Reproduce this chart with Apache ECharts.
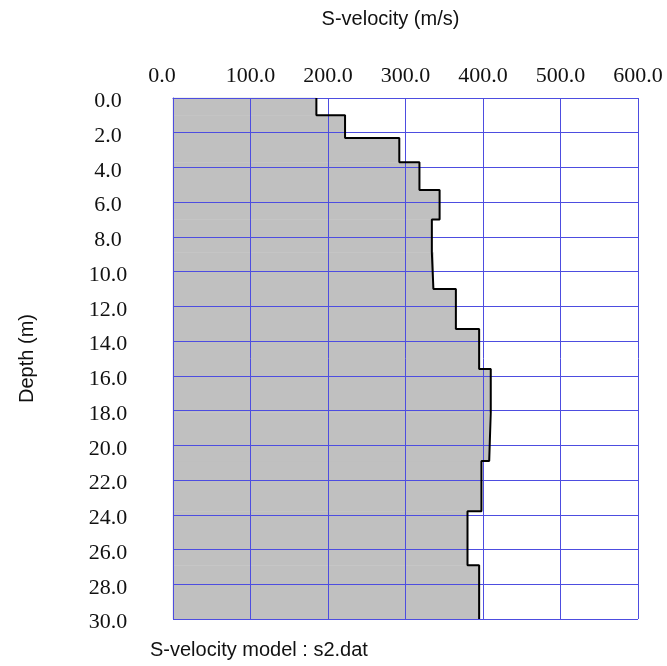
<!DOCTYPE html>
<html>
<head>
<meta charset="utf-8">
<script src="https://cdn.jsdelivr.net/npm/echarts@6/dist/echarts.min.js"></script>
<style>
  html, body { margin: 0; padding: 0; background: #fff; }
  #chart { width: 667px; height: 666px; }
</style>
</head>
<body>
<div id="chart"></div>
<script>
// S-velocity of each layer (m/s) and the layer depths (m)
const velocity = [185, 222, 292, 318, 344, 334, 336, 365, 395, 410, 408, 398, 380, 395];
const layerTop = [0, 1.0, 2.3, 3.7, 5.3, 7.0, 8.9, 11.0, 13.3, 15.6, 18.1, 20.9, 23.8, 26.9];
const layerBottom = [1.0, 2.3, 3.7, 5.3, 7.0, 8.9, 11.0, 13.3, 15.6, 18.1, 20.9, 23.8, 26.9, 30.0];

const gridBlue = "#4d4de0";
const labelFont = "Liberation Serif";

// filled layers
const layerData = velocity.map((v, i) => [v, layerTop[i], layerBottom[i]]);

// outline of the profile
const profile = [];
velocity.forEach((v, i) => {
  profile.push([v, layerTop[i]]);
  profile.push([v, layerBottom[i]]);
});

const chart = echarts.init(document.getElementById("chart"));

const option = {
  backgroundColor: "#fff",
  animation: false,
  grid: {
    left: 173,
    right: 29,
    top: 98,
    bottom: 47,
    outerBoundsMode: "none",
  },
  title: {
    text: "S-velocity model : s2.dat",
    left: 150,
    top: 640,
    padding: 0,
    textStyle: {
      fontFamily: "Liberation Sans",
      fontSize: 20,
      fontWeight: "normal",
      color: "#111",
    },
  },
  xAxis: {
    type: "value",
    position: "top",
    min: 0,
    max: 600,
    interval: 100,
    z: 3,
    name: "S-velocity (m/s)",
    nameLocation: "middle",
    nameGap: 69,
    nameTextStyle: {
      fontFamily: "Liberation Sans",
      fontSize: 20,
      color: "#111",
      padding: [0, 30, 0, 0],
    },
    axisLine: { show: true, lineStyle: { color: gridBlue, width: 1 } },
    axisTick: { show: false },
    splitLine: { show: true, lineStyle: { color: gridBlue, width: 1 } },
    axisLabel: {
      margin: 11,
      fontFamily: labelFont,
      fontSize: 22,
      color: "#111",
      formatter: (v) => (v === 0 ? "{first|0.0}" : v.toFixed(1)),
      rich: {
        first: {
          fontFamily: labelFont,
          fontSize: 22,
          color: "#111",
          padding: [0, 22, 0, 0],
        },
      },
    },
  },
  yAxis: {
    type: "value",
    inverse: true,
    min: 0,
    max: 30,
    interval: 2,
    z: 3,
    name: "Depth (m)",
    nameLocation: "middle",
    nameRotate: 90,
    nameGap: 136,
    nameTextStyle: {
      fontFamily: "Liberation Sans",
      fontSize: 20,
      color: "#111",
    },
    axisLine: { show: true, lineStyle: { color: gridBlue, width: 1 } },
    axisTick: { show: false },
    splitLine: { show: true, lineStyle: { color: gridBlue, width: 1 } },
    axisLabel: {
      margin: 65,
      align: "center",
      formatter: (v) => "{d|" + v.toFixed(1) + "}",
      rich: {
        d: {
          fontFamily: labelFont,
          fontSize: 22,
          color: "#111",
          padding: [7, 0, 0, 0],
        },
      },
    },
  },
  series: [
    {
      type: "custom",
      z: 2,
      data: layerData,
      encode: { x: 0, y: [1, 2] },
      renderItem: (params, api) => {
        const p0 = api.coord([0, api.value(1)]);
        const p1 = api.coord([api.value(0), api.value(2)]);
        return {
          type: "rect",
          shape: {
            x: p0[0],
            y: p0[1],
            width: p1[0] - p0[0],
            height: p1[1] - p0[1],
          },
          style: { fill: "#c0c0c0", stroke: "#c0c0c0", lineWidth: 0.5 },
        };
      },
    },
    {
      type: "line",
      z: 5,
      data: profile,
      showSymbol: false,
      lineStyle: { color: "#000", width: 2 },
    },
  ],
};

chart.setOption(option);
</script>
</body>
</html>
